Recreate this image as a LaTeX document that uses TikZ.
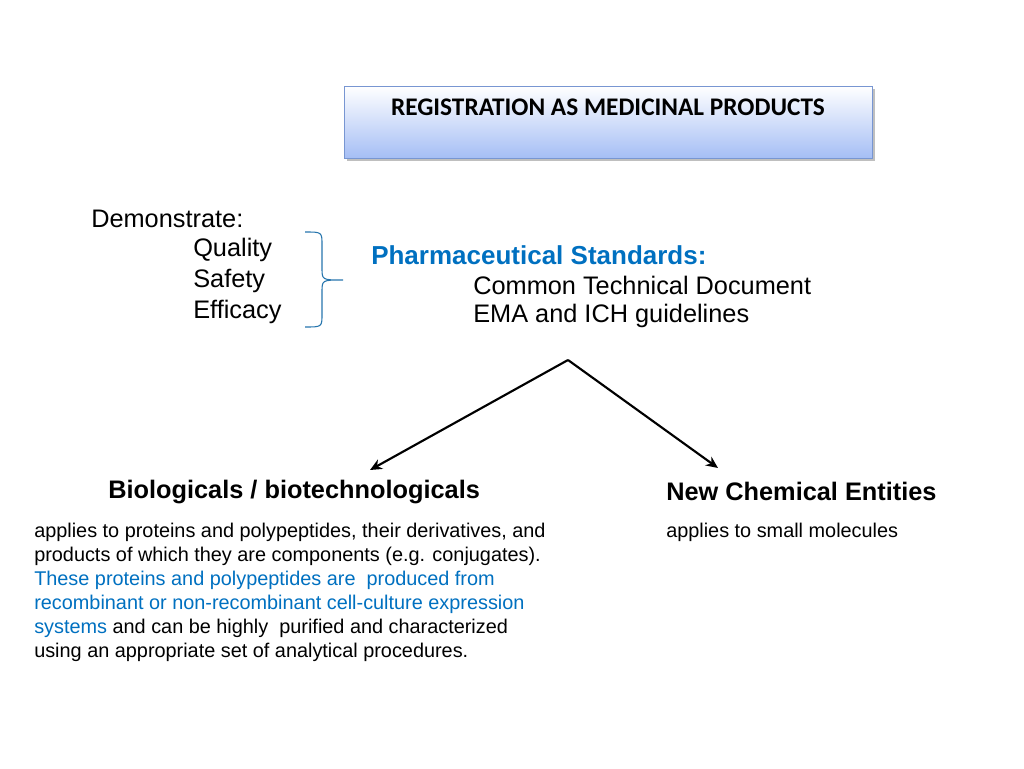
\documentclass[tikz,border=0pt]{standalone}
\usepackage{fontspec}
\setmainfont{Liberation Sans}
\newfontfamily\calib{Carlito}
\usetikzlibrary{arrows.meta}
\definecolor{tblue}{RGB}{0,112,192}
\definecolor{boxline}{RGB}{120,150,210}
\definecolor{boxbot}{RGB}{165,190,245}
\begin{document}
\begin{tikzpicture}[x=0.75pt,y=-0.75pt,
  txt/.style={anchor=west,inner sep=0pt,font=\fontsize{19}{22}\selectfont},
  body/.style={anchor=north west,inner sep=0pt,align=left,font=\fontsize{14.9}{18}\selectfont},
  arr/.style={line width=1.6pt,-{Stealth[length=9pt,width=8pt]}}]
\useasboundingbox (0,0) rectangle (1024,768);
\fill[black!25] (347,89) rectangle (875,161);
\shade[top color=white,bottom color=boxbot] (344,86) rectangle (872,158);
\draw[boxline] (344,86) rectangle (872,158);
\node[inner sep=0pt,font=\calib\bfseries\fontsize{19}{22}\selectfont] (title) at (608,107) {REGISTRATION AS MEDICINAL PRODUCTS};
\node[txt] (dem) at (91,219) {Demonstrate:};
\node[txt] (q) at (193,250) {Quality};
\node[txt] (s) at (193,281) {Safety};
\node[txt] (e) at (193,312) {Efficacy};
\draw[tblue!70!gray,line width=0.8pt] (305,232) .. controls (322,232) .. (322,245) -- (322,268) .. controls (322,280) .. (343,280) .. controls (322,280) .. (322,292) -- (322,314) .. controls (322,327) .. (305,327);
\node[txt,text=tblue,font=\bfseries\fontsize{19.5}{22}\selectfont] (ps) at (371,255) {Pharmaceutical Standards:};
\node[txt] (ctd) at (473,285) {Common Technical Document};
\node[txt] (ema) at (473,316) {EMA and ICH guidelines};
\coordinate (top) at (568,360);
\coordinate (l) at (370,470);
\coordinate (r) at (718,468);
\draw[arr] (top) -- (l);
\draw[arr] (top) -- (r);
\node[txt,font=\bfseries\fontsize{19}{22}\selectfont] (bio) at (108,492) {Biologicals / biotechnologicals};
\node[txt,font=\bfseries\fontsize{19}{22}\selectfont] (nce) at (666,491) {New Chemical Entities};
\node[body] (biot) at (34,523) {applies to proteins and polypeptides, their derivatives, and\\
products of which they are components (e.g. conjugates).\\
\textcolor{tblue}{These proteins and polypeptides are\ \ produced from}\\
\textcolor{tblue}{recombinant or non-recombinant cell-culture expression}\\
\textcolor{tblue}{systems} and can be highly\ \ purified and characterized\\
using an appropriate set of analytical procedures.};
\node[body] (ncet) at (666,523) {applies to small molecules};
\end{tikzpicture}
\end{document}
